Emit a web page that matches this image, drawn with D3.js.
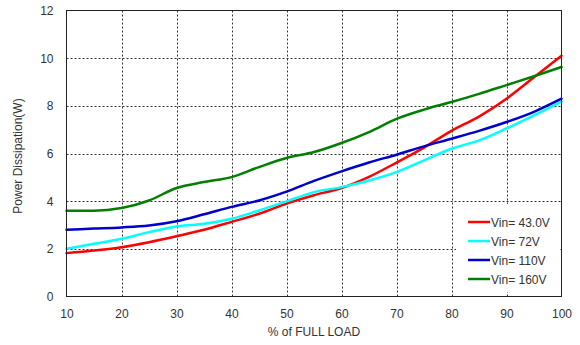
<!DOCTYPE html>
<html>
<head>
<meta charset="utf-8">
<script src="https://cdn.jsdelivr.net/npm/d3@7"></script>
<style>
  html, body { margin: 0; padding: 0; background: #fff; }
  svg { display: block; font-family: "Liberation Sans", Arial, sans-serif; }
</style>
</head>
<body>
<svg id="chart" width="580" height="345"></svg>
<script>
const loads = [10, 15, 20, 25, 30, 35, 40, 45, 50, 55, 60, 65, 70, 75, 80, 85, 90, 95, 100];
const vin43 = [1.82, 1.93, 2.07, 2.28, 2.53, 2.8, 3.13, 3.47, 3.9, 4.25, 4.55, 5.02, 5.62, 6.25, 6.95, 7.55, 8.3, 9.2, 10.1];
const vin72 = [2.0, 2.21, 2.42, 2.7, 2.94, 3.05, 3.26, 3.61, 3.99, 4.38, 4.59, 4.87, 5.22, 5.71, 6.2, 6.55, 7.05, 7.6, 8.18];
const vin110 = [2.8, 2.85, 2.9, 2.98, 3.16, 3.45, 3.76, 4.03, 4.4, 4.85, 5.25, 5.62, 5.95, 6.3, 6.62, 6.95, 7.32, 7.75, 8.3];
const vin160 = [3.6, 3.6, 3.71, 4.03, 4.55, 4.8, 5.01, 5.43, 5.81, 6.06, 6.44, 6.9, 7.45, 7.84, 8.16, 8.5, 8.87, 9.24, 9.63];
const seriesNames = ["Vin= 43.0V", "Vin= 72V", "Vin= 110V", "Vin= 160V"];
const seriesColors = ["#ff0000", "#00ffff", "#0000cc", "#007f00"];
const xTicks = [10, 20, 30, 40, 50, 60, 70, 80, 90, 100];
const yTicks = [0, 2, 4, 6, 8, 10, 12];
const xTitle = "% of FULL LOAD";
const yTitle = "Power Dissipation(W)";

const seriesValues = [vin43, vin72, vin110, vin160];
const svg = d3.select("#chart");
const m = { left: 66.5, right: 561.5, top: 10.5, bottom: 296.5 };

const x = d3.scaleLinear().domain([10, 100]).range([m.left, m.right]);
const y = d3.scaleLinear().domain([0, 12]).range([m.bottom, m.top]);

// grid
const grid = svg.append("g");
grid.selectAll("line.vg").data(xTicks.slice(1, -1)).enter().append("line")
  .attr("x1", d => Math.round(x(d)) + 0.5).attr("x2", d => Math.round(x(d)) + 0.5)
  .attr("y1", m.top).attr("y2", m.bottom)
  .attr("stroke", "#333").attr("stroke-width", 1).attr("stroke-dasharray", "2,2");
grid.selectAll("line.hg").data(yTicks.slice(1, -1)).enter().append("line")
  .attr("y1", d => Math.round(y(d)) + 0.5).attr("y2", d => Math.round(y(d)) + 0.5)
  .attr("x1", m.left).attr("x2", m.right)
  .attr("stroke", "#333").attr("stroke-width", 1).attr("stroke-dasharray", "2,2");

// legend background (covers grid)
const lg = svg.append("g");
lg.append("rect").attr("x", 456).attr("y", 204).attr("width", 104).attr("height", 88).attr("fill", "#fff");

// lines
const line = d3.line().x((d, i) => x(loads[i])).y(d => y(d)).curve(d3.curveMonotoneX);
seriesValues.forEach((vals, k) => {
  svg.append("path").datum(vals)
    .attr("d", line).attr("fill", "none")
    .attr("stroke", seriesColors[k]).attr("stroke-width", 2.5)
    .attr("stroke-linejoin", "round").attr("stroke-linecap", "round");
});

// frame
svg.append("rect").attr("x", m.left).attr("y", m.top)
  .attr("width", m.right - m.left).attr("height", m.bottom - m.top)
  .attr("fill", "none").attr("stroke", "#222").attr("stroke-width", 1);

// axes
const xAxis = svg.append("g").attr("transform", `translate(0,${m.bottom})`)
  .call(d3.axisBottom(x).tickValues(xTicks).tickSize(0).tickPadding(13));
xAxis.select(".domain").remove();
const yAxis = svg.append("g").attr("transform", `translate(${m.left},0)`)
  .call(d3.axisLeft(y).tickValues(yTicks).tickSize(0).tickPadding(13));
yAxis.select(".domain").remove();
svg.selectAll(".tick text").attr("font-size", 12).attr("fill", "#333")
  .attr("font-family", "'Liberation Sans', Arial, sans-serif");

// titles
svg.append("text").attr("x", (m.left + m.right) / 2).attr("y", 336)
  .attr("text-anchor", "middle").attr("font-size", 12).attr("fill", "#333").text(xTitle);
svg.append("text").attr("transform", `translate(22,156) rotate(-90)`)
  .attr("text-anchor", "middle").attr("font-size", 12).attr("fill", "#333").text(yTitle);

// legend entries
seriesNames.forEach((name, k) => {
  const ly = 222 + k * 19;
  lg.append("line").attr("x1", 468).attr("x2", 490).attr("y1", ly).attr("y2", ly)
    .attr("stroke", seriesColors[k]).attr("stroke-width", 2.5);
  lg.append("text").attr("x", 491).attr("y", ly + 4.5)
    .attr("font-size", 12).attr("fill", "#333").text(name);
});
</script>
</body>
</html>
